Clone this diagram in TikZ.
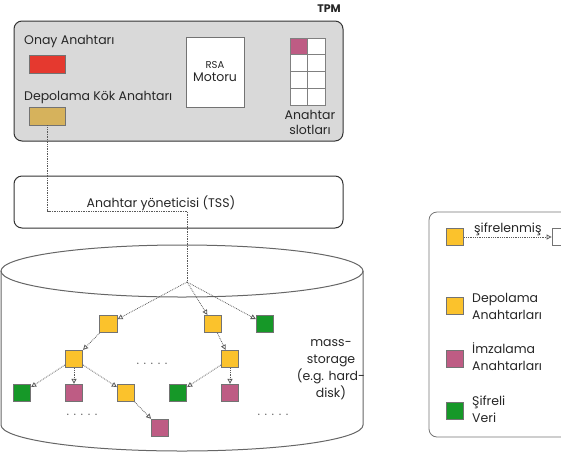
\documentclass[tikz,border=0pt]{standalone}
\usepackage{fontspec}
\setmainfont{Poppins}
\usepackage{tikz}
\usetikzlibrary{arrows.meta}
\tikzset{>={Triangle[open,length=5pt,width=5pt]}}
\colorlet{tpmcol}{black!15}
\definecolor{endorsecol}{RGB}{229,57,47}
\definecolor{rootcol}{RGB}{214,178,92}
\definecolor{storecol}{RGB}{251,194,44}
\definecolor{signcol}{RGB}{190,92,132}
\definecolor{datacol}{RGB}{22,152,40}
\colorlet{edgecol}{black!65}
\colorlet{boxcol}{black!55}
\tikzstyle{panel}=[draw=black!80,line width=1pt,rounded corners=8pt]
\tikzstyle{keysq}=[draw=boxcol,line width=0.8pt,minimum width=17.5pt,minimum height=17.5pt,inner sep=0pt]
\tikzstyle{slot}=[draw=black!50,line width=0.8pt,fill=white,minimum width=17.5pt,minimum height=16.75pt,inner sep=0pt]
\tikzstyle{treeedge}=[->,densely dotted,edgecol,line width=0.8pt]
\tikzstyle{lbl}=[font=\fontsize{12.5}{15}\selectfont,text=black!85,inner sep=0pt]
\tikzset{
  leglbl/.style={lbl,anchor=west,align=left,font=\fontsize{12.5}{17}\selectfont},
  dotrow/.style={lbl,text=black!60,font=\fontsize{12}{12}\selectfont}}
\newcommand{\fivedots}{.\hspace{4.5pt}.\hspace{4.5pt}.\hspace{4.5pt}.\hspace{4.5pt}.}

\begin{document}
\begin{tikzpicture}[x=1pt,y=-1pt]
  \useasboundingbox (0,0) rectangle (561,453);

  % TPM
  \draw[panel,fill=tpmcol] (14,21) rectangle (343,141);
  \node[lbl,font=\bfseries\fontsize{11}{12}\selectfont] (tpm) at (329,9) {TPM};
  \node[lbl,anchor=west] (ektext) at (24,41) {Onay Anahtarı};
  \node[keysq,fill=endorsecol,minimum width=36pt,minimum height=18pt] (ek) at (47.5,64) {};
  \node[lbl,anchor=west] (srktext) at (24,97) {Depolama Kök Anahtarı};
  \node[keysq,fill=rootcol,minimum width=36pt,minimum height=18pt] (srk) at (47.5,116) {};
  \node[draw=boxcol,line width=0.8pt,fill=white,minimum width=58pt,minimum height=70pt,
        align=center,lbl] (rsa) at (215,72)
        {{\fontsize{10}{10}\selectfont RSA}\\[-2pt]Motoru};

  % KEY SLOTS
  \foreach \r in {1,...,4}
    \foreach \c in {1,2}
      \node[slot] (s\r\c) at ({281.25+17.5*\c},{29.6+16.75*\r}) {};
  \node[slot,fill=signcol] at (s11) {};
  \node[lbl,align=center] (slottext) at (310,122) {Anahtar\\slotları};

  % TSS
  \draw[panel] (14,176) rectangle (343,228);
  \node[lbl] (tss) at (161,203) {Anahtar yöneticisi (TSS)};

  % STORAGE
  \draw[black!60,line width=1pt] (182,271) ellipse [x radius=181,y radius=26];
  \draw[black!60,line width=1pt] (1,271) -- (1,425)
    arc[start angle=180,end angle=0,x radius=181,y radius=26] -- (363,271);
  \node[lbl,align=center,font=\fontsize{12.5}{17}\selectfont] (mass) at (331,370)
    {mass-\\storage\\(e.g. hard-\\disk)};

  % TREE
  \coordinate (bend) at (187,211);
  \coordinate (root) at (187,282);
  \draw[densely dotted,black!65,line width=0.7pt] (srk.south) |- (bend) -- (root);

  \node[keysq,fill=storecol] (a) at (108.5,324) {};
  \node[keysq,fill=storecol] (b) at (213,324) {};
  \node[keysq,fill=datacol]  (c) at (265,324) {};
  \node[keysq,fill=storecol] (d) at (74,359) {};
  \node[keysq,fill=storecol] (e) at (230,359) {};
  \node[keysq,fill=datacol]  (f) at (22,393) {};
  \node[keysq,fill=signcol]  (g) at (74,393) {};
  \node[keysq,fill=storecol] (h) at (126,393) {};
  \node[keysq,fill=datacol]  (i) at (178,393) {};
  \node[keysq,fill=signcol]  (j) at (230,393) {};
  \node[keysq,fill=signcol]  (k) at (160,428) {};

  \foreach \u/\v in {root/a,root/b,root/c,a/d,b/e,d/f,d/g,d/h,e/i,e/j,h/k}
    \draw[treeedge] (\u) -- (\v);

  \node[dotrow] (dots1) at (152,364) {\fivedots};
  \node[dotrow] (dots2) at (82,415) {\fivedots};
  \node[dotrow] (dots3) at (273,415) {\fivedots};

  % LEGEND
  \draw[draw=black!55,line width=0.8pt,rounded corners=8pt] (429,212) rectangle (580,437);
  \node[keysq,fill=storecol] (lenc) at (455,237) {};
  \node[keysq,fill=white,minimum width=28pt] (lbox) at (566,237) {};
  \draw[treeedge] (lenc) -- (lbox) node[lbl,midway,above=1pt] (enctext) {şifrelenmiş};
  \node[keysq,fill=storecol] (lstore) at (455,306) {};
  \node[leglbl] (storetext) at (472,306) {Depolama\\Anahtarları};
  \node[keysq,fill=signcol] (lsign) at (455,359) {};
  \node[leglbl] (signtext) at (472,357) {İmzalama\\Anahtarları};
  \node[keysq,fill=datacol] (ldata) at (455,411) {};
  \node[leglbl] (datatext) at (472,409) {Şifreli\\Veri};

\end{tikzpicture}
\end{document}
